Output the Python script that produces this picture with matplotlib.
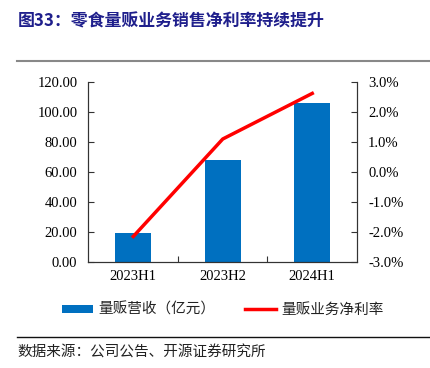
import matplotlib
matplotlib.use("Agg")
import matplotlib.pyplot as plt
from matplotlib.lines import Line2D
from matplotlib.patches import Patch
from matplotlib.ticker import FuncFormatter, FixedLocator

categories = ["2023H1", "2023H2", "2024H1"]
revenue = [19.3, 68.0, 106.3]          # 量贩营收（亿元）
net_margin = [-2.15, 1.1, 2.62]        # 量贩业务净利率 (%)
left_ticks = [0, 20, 40, 60, 80, 100, 120]
right_ticks = [-3, -2, -1, 0, 1, 2, 3]

W, H = 431, 368
fig = plt.figure(figsize=(W / 100, H / 100), dpi=100)
cjk = ["Noto Sans CJK SC", "DejaVu Sans"]
serif = "Liberation Serif"

ax = fig.add_axes([88.5 / W, 1 - 262 / H, (357 - 88.5) / W, 180 / H])
x = list(range(len(categories)))
ax.bar(x, revenue, width=0.4, color="#0070C0", zorder=2)
ax.set_xlim(-0.5, 2.5)
ax.set_ylim(0, 120)
ax.set_yticks(left_ticks)
ax.yaxis.set_major_formatter(FuncFormatter(lambda v, p: f"{v:.2f}"))
ax.set_xticks(x)
ax.set_xticklabels(categories)
ax.xaxis.set_minor_locator(FixedLocator([0.5, 1.5]))
ax.tick_params(axis="x", which="major", length=0, pad=6)
ax.tick_params(axis="x", which="minor", direction="in", length=4, width=0.8, color="#333333")
ax.tick_params(axis="y", direction="in", length=4, width=0.8, color="#333333", pad=8)
for lab in ax.get_xticklabels() + ax.get_yticklabels():
    lab.set_fontfamily(serif)
    lab.set_fontsize(10.5)
ax.spines["top"].set_visible(False)
for s in ["left", "right", "bottom"]:
    ax.spines[s].set_color("#333333")
    ax.spines[s].set_linewidth(0.8)

ax2 = ax.twinx()
ax2.plot(x, net_margin, color="#FF0000", lw=2.5, zorder=3)
ax2.set_ylim(-3, 3)
ax2.set_yticks(right_ticks)
ax2.yaxis.set_major_formatter(FuncFormatter(lambda v, p: f"{v:.1f}%"))
ax2.tick_params(axis="y", direction="in", length=4, width=0.8, color="#333333", pad=8)
for lab in ax2.get_yticklabels():
    lab.set_fontfamily(serif)
    lab.set_fontsize(10.5)
ax2.spines["top"].set_visible(False)
for s in ["left", "right", "bottom"]:
    ax2.spines[s].set_color("#333333")
    ax2.spines[s].set_linewidth(0.8)

# Title
fig.text(18 / W, 1 - 21 / H, "图33：零食量贩业务销售净利率持续提升", family=cjk,
         fontsize=12.2, fontweight="bold", color="#1F1F8C", va="center", ha="left")
# separator lines
fig.add_artist(Line2D([17 / W, 1.0], [1 - 61 / H] * 2, color="#888888", lw=1.5))
fig.add_artist(Line2D([17 / W, 1.0], [1 - 337 / H] * 2, color="#111111", lw=1.0))

# Legend
handles = [Patch(facecolor="#0070C0", edgecolor="none"),
           Line2D([0], [0], color="#FF0000", lw=2.5)]
leg = fig.legend(handles, ["量贩营收（亿元）", "量贩业务净利率"], loc="center",
                 bbox_to_anchor=(223 / W, 1 - 310 / H), ncol=2, frameon=False,
                 prop={"family": cjk, "size": 10.5}, handlelength=2.1, handleheight=0.55,
                 columnspacing=2.0, handletextpad=0.4)
for t in leg.get_texts():
    t.set_color("#222222")

fig.text(17 / W, 1 - 353 / H, "数据来源：公司公告、开源证券研究所", family=cjk,
         fontsize=10.5, color="#222222", va="center", ha="left")

fig.savefig("out.png", dpi=100)
